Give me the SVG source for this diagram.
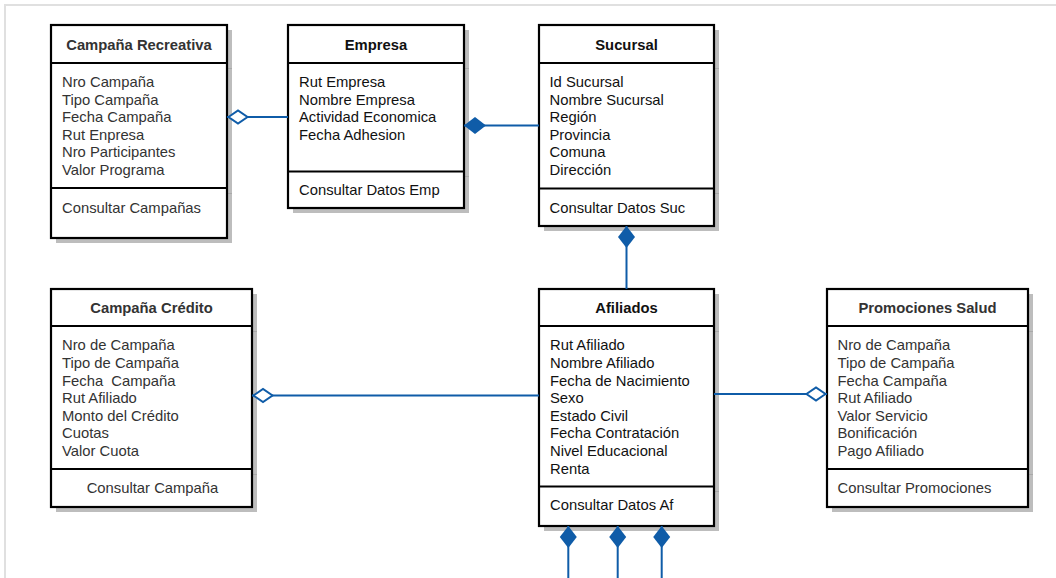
<svg xmlns="http://www.w3.org/2000/svg" width="1056" height="578" viewBox="0 0 1056 578">
  <style>
    .frame { stroke: #e0e0e0; stroke-width: 2; fill: none; }
    .shadow { fill: #bdbdbd; }
    .shadow-tick { stroke: #a9a9a9; stroke-width: 1; }
    .box { fill: #ffffff; stroke: #000000; stroke-width: 2.2; }
    .divider { stroke: #000000; stroke-width: 2.2; }
    .title { font-family: "Liberation Sans", Arial, sans-serif; font-size: 14.8px; font-weight: bold; text-anchor: middle; }
    .attr { font-family: "Liberation Sans", Arial, sans-serif; font-size: 14.8px; }
    .soft { fill: #333333; }
    .dark { fill: #111111; }
    .link { stroke: #0f5ca8; stroke-width: 2; fill: none; }
  </style>
  <defs>
    <marker id="diamondFilled" markerUnits="userSpaceOnUse" viewBox="0 -9 22 18" refX="0" refY="0" markerWidth="22" markerHeight="18" orient="auto" overflow="visible">
      <path d="M0,0 L11,-8.5 L22,0 L11,8.5 Z" fill="#0f5ca8"/>
    </marker>
    <marker id="diamondHollow" markerUnits="userSpaceOnUse" viewBox="0 -8 22 16" refX="0" refY="0" markerWidth="22" markerHeight="16" orient="auto" overflow="visible">
      <path d="M1.5,0 L11,-6.5 L20.5,0 L11,6.5 Z" fill="#ffffff" stroke="#0f5ca8" stroke-width="2" stroke-linejoin="miter"/>
    </marker>
  </defs>

  <rect width="1056" height="578" fill="#ffffff"/>
  <path class="frame" d="M5,578 L5,5 L1056,5"/>

  <!-- Campaña Recreativa -->
  <g id="campana-recreativa">
    <rect class="shadow" x="56" y="30" width="176" height="213"/>
    <line class="shadow-tick" x1="228" y1="68.5" x2="232" y2="68.5"/>
    <line class="shadow-tick" x1="228" y1="193.5" x2="232" y2="193.5"/>
    <rect class="box" x="51" y="25" width="176" height="213"/>
    <line class="divider" x1="51" y1="63" x2="227" y2="63"/>
    <line class="divider" x1="51" y1="188" x2="227" y2="188"/>
    <text class="title soft" x="139" y="50.3">Campaña Recreativa</text>
    <text class="attr soft" x="62" y="87">
      <tspan x="62">Nro Campaña</tspan>
      <tspan x="62" dy="17.6">Tipo Campaña</tspan>
      <tspan x="62" dy="17.6">Fecha Campaña</tspan>
      <tspan x="62" dy="17.6">Rut Enpresa</tspan>
      <tspan x="62" dy="17.6">Nro Participantes</tspan>
      <tspan x="62" dy="17.6">Valor Programa</tspan>
    </text>
    <text class="attr soft" x="62" y="212.5">Consultar Campañas</text>
  </g>

  <!-- Empresa -->
  <g id="empresa">
    <rect class="shadow" x="293" y="30" width="176" height="183"/>
    <line class="shadow-tick" x1="465" y1="68.5" x2="469" y2="68.5"/>
    <line class="shadow-tick" x1="465" y1="176.5" x2="469" y2="176.5"/>
    <rect class="box" x="288" y="25" width="176" height="183"/>
    <line class="divider" x1="288" y1="63" x2="464" y2="63"/>
    <line class="divider" x1="288" y1="171.5" x2="464" y2="171.5"/>
    <text class="title dark" x="376" y="50.3">Empresa</text>
    <text class="attr dark" x="299" y="87">
      <tspan x="299">Rut Empresa</tspan>
      <tspan x="299" dy="17.6">Nombre Empresa</tspan>
      <tspan x="299" dy="17.6">Actividad Economica</tspan>
      <tspan x="299" dy="17.6">Fecha Adhesion</tspan>
    </text>
    <text class="attr dark" x="299" y="195.3">Consultar Datos Emp</text>
  </g>

  <!-- Sucursal -->
  <g id="sucursal">
    <rect class="shadow" x="544" y="30" width="175" height="201"/>
    <line class="shadow-tick" x1="715" y1="68.5" x2="719" y2="68.5"/>
    <line class="shadow-tick" x1="715" y1="193.5" x2="719" y2="193.5"/>
    <rect class="box" x="539" y="25" width="175" height="201"/>
    <line class="divider" x1="539" y1="63" x2="714" y2="63"/>
    <line class="divider" x1="539" y1="188.5" x2="714" y2="188.5"/>
    <text class="title dark" x="626.5" y="50.3">Sucursal</text>
    <text class="attr dark" x="549.5" y="87">
      <tspan x="549.5">Id Sucursal</tspan>
      <tspan x="549.5" dy="17.6">Nombre Sucursal</tspan>
      <tspan x="549.5" dy="17.6">Región</tspan>
      <tspan x="549.5" dy="17.6">Provincia</tspan>
      <tspan x="549.5" dy="17.6">Comuna</tspan>
      <tspan x="549.5" dy="17.6">Dirección</tspan>
    </text>
    <text class="attr dark" x="549.5" y="212.5">Consultar Datos Suc</text>
  </g>

  <!-- Campaña Crédito -->
  <g id="campana-credito">
    <rect class="shadow" x="56" y="294" width="201" height="218"/>
    <line class="shadow-tick" x1="253" y1="331.5" x2="257" y2="331.5"/>
    <line class="shadow-tick" x1="253" y1="474.5" x2="257" y2="474.5"/>
    <rect class="box" x="51" y="289" width="201" height="218"/>
    <line class="divider" x1="51" y1="326" x2="252" y2="326"/>
    <line class="divider" x1="51" y1="469" x2="252" y2="469"/>
    <text class="title soft" x="151.5" y="312.6">Campaña Crédito</text>
    <text class="attr soft" x="62" y="350.3">
      <tspan x="62">Nro de Campaña</tspan>
      <tspan x="62" dy="17.6">Tipo de Campaña</tspan>
      <tspan x="62" dy="17.6" xml:space="preserve">Fecha  Campaña</tspan>
      <tspan x="62" dy="17.6">Rut Afiliado</tspan>
      <tspan x="62" dy="17.6">Monto del Crédito</tspan>
      <tspan x="62" dy="17.6">Cuotas</tspan>
      <tspan x="62" dy="17.6">Valor Cuota</tspan>
    </text>
    <text class="attr soft" x="152.5" y="493.3" text-anchor="middle">Consultar Campaña</text>
  </g>

  <!-- Afiliados -->
  <g id="afiliados">
    <rect class="shadow" x="544" y="294" width="175" height="237"/>
    <line class="shadow-tick" x1="715" y1="331.5" x2="719" y2="331.5"/>
    <line class="shadow-tick" x1="715" y1="491.5" x2="719" y2="491.5"/>
    <rect class="box" x="539" y="289" width="175" height="237"/>
    <line class="divider" x1="539" y1="326" x2="714" y2="326"/>
    <line class="divider" x1="539" y1="486.5" x2="714" y2="486.5"/>
    <text class="title dark" x="626.5" y="312.6">Afiliados</text>
    <text class="attr dark" x="550" y="350.3">
      <tspan x="550">Rut Afiliado</tspan>
      <tspan x="550" dy="17.6">Nombre Afiliado</tspan>
      <tspan x="550" dy="17.6">Fecha de Nacimiento</tspan>
      <tspan x="550" dy="17.6">Sexo</tspan>
      <tspan x="550" dy="17.6">Estado Civil</tspan>
      <tspan x="550" dy="17.6">Fecha Contratación</tspan>
      <tspan x="550" dy="17.6">Nivel Educacional</tspan>
      <tspan x="550" dy="17.6">Renta</tspan>
    </text>
    <text class="attr dark" x="550" y="510.3">Consultar Datos Af</text>
  </g>

  <!-- Promociones Salud -->
  <g id="promociones-salud">
    <rect class="shadow" x="832" y="294" width="201" height="218"/>
    <line class="shadow-tick" x1="1029" y1="331.5" x2="1033" y2="331.5"/>
    <line class="shadow-tick" x1="1029" y1="474.5" x2="1033" y2="474.5"/>
    <rect class="box" x="827" y="289" width="201" height="218"/>
    <line class="divider" x1="827" y1="326" x2="1028" y2="326"/>
    <line class="divider" x1="827" y1="469" x2="1028" y2="469"/>
    <text class="title soft" x="927.5" y="312.6">Promociones Salud</text>
    <text class="attr soft" x="837.5" y="350.3">
      <tspan x="837.5">Nro de Campaña</tspan>
      <tspan x="837.5" dy="17.6">Tipo de Campaña</tspan>
      <tspan x="837.5" dy="17.6">Fecha Campaña</tspan>
      <tspan x="837.5" dy="17.6">Rut Afiliado</tspan>
      <tspan x="837.5" dy="17.6">Valor Servicio</tspan>
      <tspan x="837.5" dy="17.6">Bonificación</tspan>
      <tspan x="837.5" dy="17.6">Pago Afiliado</tspan>
    </text>
    <text class="attr soft" x="837.5" y="493.3">Consultar Promociones</text>
  </g>

  <!-- connectors, drawn over the box shadows -->
  <g id="connectors">
    <path class="link" d="M227,117 L288,117" marker-start="url(#diamondHollow)"/>
    <path class="link" d="M464,125.5 L539,125.5" marker-start="url(#diamondFilled)"/>
    <path class="link" d="M626.5,226 L626.5,289" marker-start="url(#diamondFilled)"/>
    <path class="link" d="M252,395.5 L539,395.5" marker-start="url(#diamondHollow)"/>
    <path class="link" d="M827,394 L714,394" marker-start="url(#diamondHollow)"/>
    <path class="link" d="M568.3,526 L568.3,578" marker-start="url(#diamondFilled)"/>
    <path class="link" d="M617.7,526 L617.7,578" marker-start="url(#diamondFilled)"/>
    <path class="link" d="M661.7,526 L661.7,578" marker-start="url(#diamondFilled)"/>
  </g>
</svg>
